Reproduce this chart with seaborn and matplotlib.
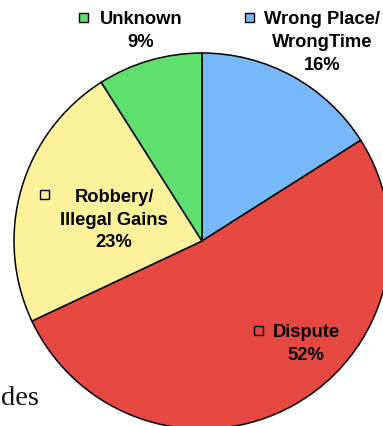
import matplotlib
matplotlib.use("Agg")
import matplotlib.pyplot as plt
import seaborn as sns

# Motive breakdown (percent), clockwise from 12 o'clock
categories = ["Wrong Place/\nWrongTime", "Dispute", "Robbery/\nIllegal Gains", "Unknown"]
shares = [16, 52, 23, 9]
slice_colors = ["#77B8FA", "#E64842", "#FDF29C", "#5EDF6E"]

sns.set_style("white")
plt.rcParams["font.family"] = ["Liberation Sans", "DejaVu Sans"]

W, H = 383, 427
fig = plt.figure(figsize=(W / 100, H / 100), dpi=100)
ax = fig.add_axes([0, 0, 1, 1])

cx, cy, r = 202, H - 242, 188
palette = sns.color_palette(slice_colors)
ax.pie(shares, colors=palette, startangle=90, counterclock=False,
       center=(cx, cy), radius=r, frame=True,
       wedgeprops=dict(edgecolor="black", linewidth=1.1))
ax.set_xlim(0, W)
ax.set_ylim(0, H)
ax.set_aspect("equal")
ax.axis("off")

# label blocks: (text centre x, first-line centre y from top, key square centre)
label_pos = {
    "Unknown": (141, 20, (83, 18)),
    "Wrong Place/\nWrongTime": (322, 20, (249, 18)),
    "Robbery/\nIllegal Gains": (114, 198, (44, 195)),
    "Dispute": (306, 333, (258, 331)),
}
line_h = 22.5
for name, val, col in zip(categories, shares, palette):
    tx, ty, (sx, sy) = label_pos[name]
    lines = name.split("\n") + [f"{val}%"]
    for i, ln in enumerate(lines):
        ax.text(tx, H - (ty + i * line_h), ln, ha="center", va="center",
                fontsize=13.2, fontweight="bold", color="black")
    ax.add_patch(plt.Rectangle((sx - 4.5, H - sy - 4.5), 9, 9,
                               facecolor=col, edgecolor="black", linewidth=1.0))

# fragment of slide text at lower left
ax.text(0.5, H - 405, "des", ha="left", va="baseline",
        fontsize=20.5, family=["Liberation Serif", "DejaVu Serif"], color="#111111")

fig.savefig("out.png", dpi=100)
